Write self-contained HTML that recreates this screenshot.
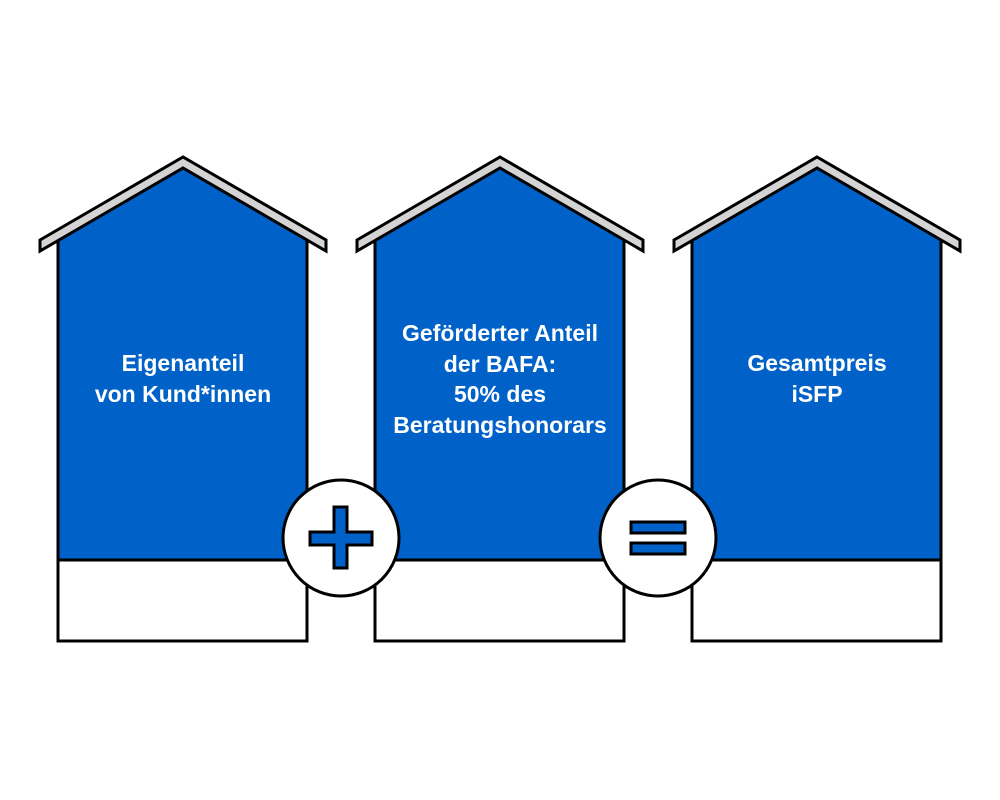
<!DOCTYPE html>
<html><head><meta charset="utf-8"><style>
html,body{margin:0;padding:0;background:#fff}
svg{display:block}
text{font-family:"Liberation Sans",sans-serif;font-size:23px;fill:#fff;text-anchor:middle;font-weight:bold}
</style></head><body>
<svg width="1000" height="800" viewBox="0 0 1000 800">
<defs>
<g id="house">
<polygon points="58,236 183,160 307,236 307,560 58,560" fill="#0062c8"/>
<path d="M58,240 V560 H307 V240" fill="none" stroke="#000" stroke-width="3"/>
<rect x="58" y="560" width="249" height="81" fill="#fff" stroke="#000" stroke-width="3"/>
<polygon points="40,240 183,157 326,240 326,251 183,168 40,251" fill="#d4d4d4" stroke="#000" stroke-width="3" stroke-linejoin="miter"/>
</g>
</defs>
<use href="#house"/>
<use href="#house" x="317"/>
<use href="#house" x="634"/>
<text x="183" y="371">Eigenanteil</text>
<text x="183" y="402">von Kund*innen</text>
<text x="500" y="341">Geförderter Anteil</text>
<text x="500" y="372">der BAFA:</text>
<text x="500" y="402">50% des</text>
<text x="500" y="433">Beratungshonorars</text>
<text x="817" y="371">Gesamtpreis</text>
<text x="817" y="402">iSFP</text>
<circle cx="341" cy="538" r="58" fill="#fff" stroke="#000" stroke-width="3"/>
<polygon points="334,507 347,507 347,532 372,532 372,545 347,545 347,568 334,568 334,545 310,545 310,532 334,532" fill="#0062c8" stroke="#000" stroke-width="3"/>
<circle cx="658" cy="538" r="58" fill="#fff" stroke="#000" stroke-width="3"/>
<rect x="631" y="522" width="54" height="11" fill="#0062c8" stroke="#000" stroke-width="3"/>
<rect x="631" y="543" width="54" height="11" fill="#0062c8" stroke="#000" stroke-width="3"/>
</svg>
</body></html>
